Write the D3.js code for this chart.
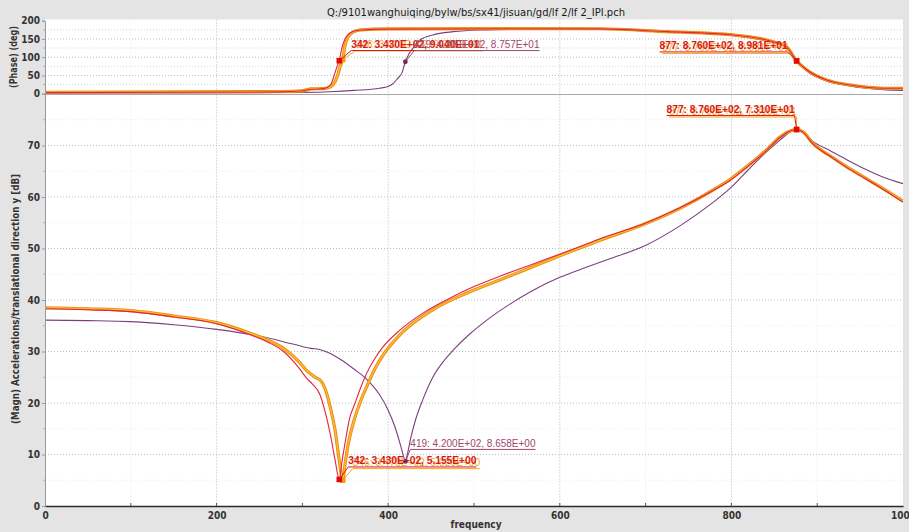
<!DOCTYPE html>
<html>
<head>
<meta charset="utf-8">
<script src="https://cdn.jsdelivr.net/npm/d3@7"></script>
<style>
  body { margin: 0; background: #e4e4e4; }
  svg { display: block; }
</style>
</head>
<body>
<svg id="chart" width="909" height="532"></svg>
<script>
// ---------- data ----------
const titleText = "Q:/9101wanghuiqing/bylw/bs/sx41/jisuan/gd/lf 2/lf 2_IPI.pch";
const xLabel = "frequency";
const phaseLabel = "(Phase) (deg)";
const magLabel = "(Magn) Accelerations/translational direction y [dB]";

const freqTicks = [0, 200, 400, 600, 800, 1000];
const phaseTicks = [0, 50, 100, 150, 200];
const magTicks = [0, 10, 20, 30, 40, 50, 60, 70];

// Series A (purple)
const magFreqA = [0, 50, 100, 150, 200, 250, 290, 310, 320, 330, 345, 360, 375, 390, 400, 408, 414, 418, 420, 422, 426, 432, 440, 452, 465, 476, 495, 515, 540, 569, 600, 630, 660, 701, 740, 779, 800, 818, 840, 857, 870, 876, 882, 895, 915, 935, 955, 975, 1000];
const magA = [36.1, 36.0, 35.8, 35.2, 34.3, 33.0, 31.4, 30.6, 30.4, 29.8, 28.4, 26.6, 24.6, 21.6, 18.6, 15.3, 12.0, 9.6, 8.658, 9.8, 13.0, 16.8, 20.5, 25.0, 28.2, 30.3, 33.4, 36.1, 39.0, 41.9, 44.4, 46.3, 48.1, 50.7, 54.4, 59.0, 61.9, 65.0, 68.6, 71.1, 72.8, 73.2, 72.8, 70.8, 69.0, 67.2, 65.5, 64.0, 62.6];

// Series B (red)
const magFreqB = [0, 50, 103, 150, 200, 240, 260, 278, 295, 305, 312, 320, 327, 333, 338, 343, 346, 350, 355, 361, 368, 375, 385, 394, 414, 440, 470, 500, 530, 569, 608, 647, 701, 740, 779, 800, 818, 840, 857, 870, 876, 884, 895, 915, 934, 955, 973, 1000];
const magB = [38.3, 38.1, 37.7, 36.7, 35.4, 33.2, 31.8, 30.0, 27.0, 24.8, 23.6, 21.8, 18.0, 13.5, 9.0, 5.155, 8.5, 12.5, 17.0, 19.8, 23.0, 25.8, 28.8, 30.9, 34.2, 37.4, 40.2, 42.6, 44.6, 47.0, 49.4, 51.9, 55.0, 57.9, 61.3, 63.4, 65.8, 68.9, 71.6, 72.9, 73.1, 72.5, 70.3, 67.9, 65.8, 63.7, 61.9, 59.0];

// Series C (orange)
const magFreqC = [0, 50, 103, 150, 200, 240, 260, 278, 295, 305, 315, 322, 328, 333, 338, 342, 345, 347, 350, 354, 360, 367, 375, 385, 394, 414, 452, 491, 530, 569, 608, 647, 701, 740, 779, 800, 818, 840, 857, 870, 876, 884, 895, 915, 934, 955, 973, 1000];
const magC = [38.5, 38.3, 37.9, 36.9, 35.6, 33.5, 32.2, 30.6, 28.2, 26.3, 25.0, 24.2, 22.0, 18.8, 14.8, 10.0, 6.5, 5.02, 8.5, 12.5, 16.5, 20.0, 23.2, 26.8, 29.3, 33.3, 38.1, 41.3, 43.9, 46.5, 49.1, 51.6, 54.9, 57.8, 61.4, 63.6, 65.9, 69.0, 71.7, 72.9, 73.1, 72.6, 70.4, 68.0, 65.9, 63.8, 62.0, 59.2];

// Phase curves
const phFreqA = [0, 250, 300, 332, 360, 390, 400, 406, 411, 416, 420, 424, 428, 437, 452, 476, 507, 560, 647, 725, 802, 841, 864, 876, 888, 911, 938, 977, 1000];
const phA = [2, 2.5, 3.5, 5.5, 9, 15, 20, 28.5, 42, 57, 87.57, 108, 122, 147, 161, 170, 174.5, 176.5, 177, 169, 159, 145, 127, 91, 62, 35, 21, 11, 9];

const phFreqB = [0, 274, 300, 310, 325, 333, 337, 340, 343, 346, 350, 356, 365, 400, 550, 647, 725, 802, 841, 864, 876, 888, 911, 938, 977, 1000];
const phB = [3, 5, 8, 12, 14, 25, 50, 72, 90.4, 125, 152, 167, 174, 177, 178, 177.5, 170, 161, 147, 129, 89.81, 65, 37.5, 24, 15, 15];

const phFreqC = [0, 274, 300, 310, 325, 330, 336, 341, 344, 347, 350, 354, 360, 368, 400, 550, 647, 725, 802, 841, 864, 876, 888, 911, 938, 977, 1000];
const phC = [4, 6, 8, 13, 14, 16, 25, 50, 75, 93.95, 135, 158, 170, 175, 177.5, 178.5, 178, 170, 161, 147, 129, 89.81, 65, 37.5, 24, 15, 15];

// Picked points: series, index, frequency, value
const magMarkSeries = ["C", "B", "A", "C", "B"];
const magMarkIndex = [346, 342, 419, 877, 877];
const magMarkFreq = [347, 343, 420, 876, 876];
const magMarkValue = [5.02, 5.155, 8.658, 73.1, 73.1];

const phMarkSeries = ["C", "B", "A", "C", "B"];
const phMarkIndex = [346, 342, 419, 877, 877];
const phMarkFreq = [347, 343, 420, 876, 876];
const phMarkValue = [93.95, 90.4, 87.57, 89.81, 89.81];

// ---------- styling ----------
const colors = { A: "#7b3f80", B: "#e2243c", C: "#f3a21e" };
const labelColors = { A: "#a0486a", B: "#d81818", C: "#f5a623" };

// ---------- layout ----------
const svg = d3.select("#chart");
const left = 45, right = 903;
const phaseTop = 19.5, phaseBottom = 94, magBottom = 506;

const x = d3.scaleLinear().domain([0, 1000]).range([left, right]);
const yP = d3.scaleLinear().domain([0, 200]).range([93.7, 20.7]);
const yM = d3.scaleLinear().domain([0, 80]).range([magBottom, 94]);

const defs = svg.append("defs");
defs.append("clipPath").attr("id", "clipP").append("rect")
  .attr("x", left).attr("y", phaseTop).attr("width", right - left).attr("height", phaseBottom - phaseTop);
defs.append("clipPath").attr("id", "clipM").append("rect")
  .attr("x", left).attr("y", phaseBottom).attr("width", right - left).attr("height", magBottom - phaseBottom);

// plot background
svg.append("rect").attr("x", left).attr("y", phaseTop)
  .attr("width", right - left).attr("height", magBottom - phaseTop).attr("fill", "#ffffff");

// grid
const grid = svg.append("g").attr("stroke-dasharray", "1,2").attr("fill", "none");
d3.range(100, 1000, 100).forEach(f => {
  grid.append("line").attr("x1", x(f)).attr("x2", x(f))
    .attr("y1", phaseTop).attr("y2", magBottom)
    .attr("stroke", f % 200 === 0 ? "#b8b8b8" : "#ececec").attr("stroke-width", 1);
});
d3.range(25, 200, 25).forEach(v => {
  grid.append("line").attr("x1", left).attr("x2", right)
    .attr("y1", yP(v)).attr("y2", yP(v))
    .attr("stroke", v % 50 === 0 ? "#bdbdbd" : "#d6d6d6");
});
d3.range(5, 80, 5).forEach(v => {
  grid.append("line").attr("x1", left).attr("x2", right)
    .attr("y1", yM(v)).attr("y2", yM(v))
    .attr("stroke", v % 10 === 0 ? "#bdbdbd" : "#eeeeee");
});

// panel separator
svg.append("line").attr("x1", left).attr("x2", right)
  .attr("y1", phaseBottom + 0.5).attr("y2", phaseBottom + 0.5)
  .attr("stroke", "#a8a8a8").attr("stroke-width", 1.2);

// ---------- curves ----------
const pairs = (fs, vs) => fs.map((f, i) => [f, vs[i]]);
const lineP = d3.line().x(d => x(d[0])).y(d => yP(d[1])).curve(d3.curveMonotoneX);
const lineM = d3.line().x(d => x(d[0])).y(d => yM(d[1])).curve(d3.curveMonotoneX);

function drawSeries(g, line, data, key) {
  if (key === "C") {
    g.append("path").attr("d", line(data)).attr("fill", "none")
      .attr("stroke", "#ea8a14").attr("stroke-width", 3.2).attr("stroke-linejoin", "round");
    g.append("path").attr("d", line(data)).attr("fill", "none")
      .attr("stroke", "#fbbb2e").attr("stroke-width", 1.4).attr("stroke-linejoin", "round");
  } else {
    g.append("path").attr("d", line(data)).attr("fill", "none")
      .attr("stroke", colors[key]).attr("stroke-width", 1.1).attr("stroke-linejoin", "round");
  }
}

const gP = svg.append("g").attr("clip-path", "url(#clipP)");
drawSeries(gP, lineP, pairs(phFreqA, phA), "A");
drawSeries(gP, lineP, pairs(phFreqC, phC), "C");
drawSeries(gP, lineP, pairs(phFreqB, phB), "B");

const gM = svg.append("g").attr("clip-path", "url(#clipM)");
drawSeries(gM, lineM, pairs(magFreqA, magA), "A");
drawSeries(gM, lineM, pairs(magFreqC, magC), "C");
drawSeries(gM, lineM, pairs(magFreqB, magB), "B");

// ---------- axes ----------
const tickFont = "'DejaVu Sans Condensed', 'DejaVu Sans', sans-serif";

const axisX = d3.axisBottom(x).tickValues(freqTicks).tickSize(0).tickPadding(6).tickFormat(d3.format("d"));
const gx = svg.append("g").attr("transform", `translate(0,${magBottom})`).call(axisX);
gx.select(".domain").attr("stroke", "#2a2a2a").attr("stroke-width", 1.6);
gx.selectAll("text").attr("font-family", tickFont).attr("font-weight", "bold")
  .attr("font-size", 10).attr("fill", "#333");
// minor ticks on the frequency axis
d3.range(100, 1000, 100).forEach(f => {
  svg.append("line").attr("x1", x(f)).attr("x2", x(f))
    .attr("y1", magBottom - 3).attr("y2", magBottom).attr("stroke", "#555");
});

const axisM = d3.axisLeft(yM).tickValues(magTicks).tickSize(3).tickPadding(2).tickFormat(d3.format("d"));
const gyM = svg.append("g").attr("transform", `translate(${left},0)`).call(axisM);
gyM.select(".domain").attr("stroke", "#9a9a9a");
gyM.selectAll("line").attr("stroke", "#9a9a9a");
gyM.selectAll("text").attr("font-family", tickFont).attr("font-weight", "bold")
  .attr("font-size", 10).attr("fill", "#333");
d3.range(5, 80, 10).forEach(v => {
  svg.append("line").attr("x1", left - 2).attr("x2", left)
    .attr("y1", yM(v)).attr("y2", yM(v)).attr("stroke", "#b0b0b0");
});

const axisP = d3.axisLeft(yP).tickValues(phaseTicks).tickSize(3).tickPadding(2).tickFormat(d3.format("d"));
const gyP = svg.append("g").attr("transform", `translate(${left},0)`).call(axisP);
gyP.select(".domain").attr("stroke", "#9a9a9a");
gyP.selectAll("line").attr("stroke", "#9a9a9a");
gyP.selectAll("text").attr("font-family", tickFont).attr("font-weight", "bold")
  .attr("font-size", 10).attr("fill", "#333");
d3.range(25, 200, 50).forEach(v => {
  svg.append("line").attr("x1", left - 2).attr("x2", left)
    .attr("y1", yP(v)).attr("y2", yP(v)).attr("stroke", "#b0b0b0");
});

// ---------- titles ----------
const narrow = "'Liberation Sans Narrow', 'DejaVu Sans Condensed', sans-serif";
svg.append("text").attr("x", 476).attr("y", 15.5).attr("text-anchor", "middle")
  .attr("font-family", narrow).attr("font-size", 10.5).attr("fill", "#1a1a1a")
  .attr("textLength", 298).attr("lengthAdjust", "spacingAndGlyphs").text(titleText);

svg.append("text").attr("x", 476).attr("y", 528).attr("text-anchor", "middle")
  .attr("font-family", narrow).attr("font-weight", "bold").attr("font-size", 10).attr("fill", "#333")
  .text(xLabel);

svg.append("text").attr("transform", "translate(17,57) rotate(-90)").attr("text-anchor", "middle")
  .attr("font-family", narrow).attr("font-weight", "bold").attr("font-size", 10).attr("fill", "#333")
  .attr("textLength", 62).attr("lengthAdjust", "spacingAndGlyphs").text(phaseLabel);

svg.append("text").attr("transform", "translate(19,299) rotate(-90)").attr("text-anchor", "middle")
  .attr("font-family", narrow).attr("font-weight", "bold").attr("font-size", 10).attr("fill", "#333")
  .attr("textLength", 250).attr("lengthAdjust", "spacingAndGlyphs").text(magLabel);

// ---------- picked-point markers and their labels ----------
function sci(v) {
  const e = Math.floor(Math.log10(Math.abs(v)));
  const m = v / Math.pow(10, e);
  return m.toFixed(3) + "E" + (e >= 0 ? "+" : "-") + String(Math.abs(e)).padStart(2, "0");
}

const labelFont = "'Liberation Sans', Arial, sans-serif";
// label placement relative to each marker: [dx, dy, anchor]
const magPlace = [[10, -14, "start"], [9, -15, "start"], [5, -14.5, "start"], [0, -15, "end"], [-2, -16.5, "end"]];
const phPlace = [[13, -11, "start"], [12, -12.7, "start"], [9, -13.7, "start"], [-7, -10, "end"], [-9, -11.5, "end"]];

function drawMarks(yScale, series, idx, freqs, vals, place) {
  const g = svg.append("g");
  freqs.forEach((f, i) => {
    const key = series[i];
    const mx = x(f), my = yScale(vals[i]);
    const [dx, dy, anchor] = place[i];
    const txt = `${idx[i]}: ${sci(f)}, ${sci(vals[i])}`;
    const t = g.append("text").attr("x", mx + dx).attr("y", my + dy)
      .attr("text-anchor", anchor).attr("font-family", labelFont)
      .attr("font-size", key === "A" ? 10 : 10.2)
      .attr("font-weight", key === "B" ? "bold" : "normal")
      .attr("fill", labelColors[key]).text(txt);
    const w = t.node().getComputedTextLength();
    const x0 = anchor === "start" ? mx + dx : mx + dx - w;
    const x1 = x0 + w;
    const uy = my + dy + 2.5;
    g.append("line").attr("x1", x0).attr("x2", x1).attr("y1", uy).attr("y2", uy)
      .attr("stroke", labelColors[key]).attr("stroke-width", 1);
    const lx = anchor === "start" ? x0 : x1;
    g.append("line").attr("x1", mx).attr("y1", my).attr("x2", lx).attr("y2", uy)
      .attr("stroke", labelColors[key]).attr("stroke-width", 1);
    if (key === "A") {
      g.append("circle").attr("cx", mx).attr("cy", my).attr("r", 2.4).attr("fill", "#7a2a58");
    } else {
      g.append("rect").attr("x", mx - 2.8).attr("y", my - 2.8).attr("width", 5.6).attr("height", 5.6)
        .attr("fill", key === "B" ? "#e00a0a" : "#f59a12");
    }
  });
}

drawMarks(yM, magMarkSeries, magMarkIndex, magMarkFreq, magMarkValue, magPlace);
drawMarks(yP, phMarkSeries, phMarkIndex, phMarkFreq, phMarkValue, phPlace);
</script>
</body>
</html>
